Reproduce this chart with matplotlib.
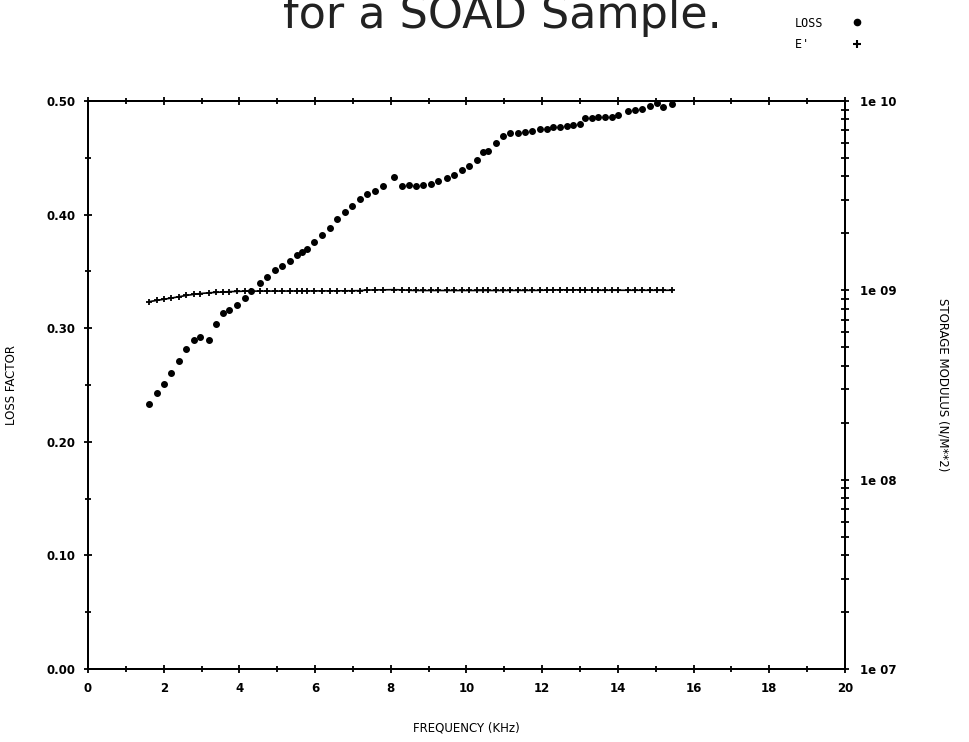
import numpy as np
import matplotlib
matplotlib.use('Agg')
import matplotlib.pyplot as plt
from matplotlib.ticker import MultipleLocator, LogLocator, NullFormatter

# loss factor points (frequency kHz, loss factor)
loss_freq = [1.61, 1.82, 2.00, 2.20, 2.40, 2.60, 2.79, 2.97, 3.19, 3.39,
             3.57, 3.73, 3.94, 4.14, 4.30, 4.54, 4.73, 4.93, 5.13, 5.34,
             5.53, 5.65, 5.79, 5.97, 6.18, 6.39, 6.59, 6.78, 6.97, 7.18,
             7.37, 7.57, 7.79, 8.08, 8.29, 8.48, 8.67, 8.85, 9.05, 9.25,
             9.48, 9.67, 9.87, 10.07, 10.27, 10.43, 10.56, 10.77, 10.96, 11.15,
             11.37, 11.55, 11.72, 11.94, 12.12, 12.29, 12.47, 12.65, 12.82, 13.00,
             13.13, 13.31, 13.48, 13.66, 13.84, 14.01, 14.27, 14.45, 14.63, 14.85,
             15.03, 15.20, 15.42]
loss = [0.233, 0.243, 0.251, 0.261, 0.271, 0.282, 0.290, 0.292, 0.290, 0.304,
        0.313, 0.316, 0.320, 0.327, 0.333, 0.340, 0.345, 0.351, 0.355, 0.359,
        0.364, 0.367, 0.370, 0.376, 0.382, 0.388, 0.396, 0.402, 0.408, 0.414,
        0.418, 0.421, 0.425, 0.433, 0.425, 0.426, 0.425, 0.426, 0.427, 0.430,
        0.432, 0.435, 0.439, 0.443, 0.448, 0.455, 0.456, 0.463, 0.469, 0.472,
        0.472, 0.473, 0.474, 0.475, 0.475, 0.477, 0.477, 0.478, 0.479, 0.480,
        0.485, 0.485, 0.486, 0.486, 0.486, 0.488, 0.491, 0.492, 0.493, 0.496,
        0.498, 0.495, 0.497]

# storage modulus E' (N/m**2), same frequencies
e_store = [8.71e8, 8.85e8, 8.97e8, 9.10e8, 9.25e8, 9.40e8, 9.52e8, 9.62e8, 9.70e8, 9.76e8,
           9.80e8, 9.84e8, 9.87e8, 9.90e8, 9.90e8, 9.91e8, 9.91e8, 9.91e8, 9.91e8, 9.92e8,
           9.92e8, 9.92e8, 9.92e8, 9.93e8, 9.93e8, 9.93e8, 9.94e8, 9.94e8, 9.95e8, 9.96e8,
           1.003e9, 1.005e9, 1.006e9, 1.008e9, 1.006e9, 1.000e9, 9.98e8, 9.98e8, 9.98e8, 9.98e8,
           9.98e8, 9.98e8, 9.98e8, 9.98e8, 9.98e8, 9.98e8, 9.98e8, 9.98e8, 9.98e8, 9.99e8,
           9.99e8, 9.99e8, 9.99e8, 1.000e9, 1.003e9, 1.005e9, 1.006e9, 1.006e9, 1.006e9, 1.006e9,
           1.004e9, 1.002e9, 1.001e9, 1.001e9, 1.001e9, 1.001e9, 1.001e9, 1.001e9, 1.001e9, 1.001e9,
           1.001e9, 1.001e9, 1.001e9]

left_ticks = [0.0, 0.1, 0.2, 0.3, 0.4, 0.5]
left_labels = ['0.00', '0.10', '0.20', '0.30', '0.40', '0.50']
right_ticks = [1e7, 1e8, 1e9, 1e10]
right_labels = ['1e 07', '1e 08', '1e 09', '1e 10']
x_ticks = [0, 2, 4, 6, 8, 10, 12, 14, 16, 18, 20]

fig = plt.figure(figsize=(9.69, 7.42), dpi=100)
ax = fig.add_axes([88/969, 1-669/742, 757/969, 568/742])
ax2 = ax.twinx()

ax.plot(loss_freq, loss, 'o', color='black', ms=4.0, zorder=3, label='LOSS')
ax2.plot(loss_freq, e_store, '-', color='black', lw=1.2, marker='+', ms=5, mew=1.3, label="E'")

ax.set_xlim(0, 20)
ax.set_ylim(0, 0.5)
ax2.set_yscale('log')
ax2.set_ylim(1e7, 1e10)

ax.set_xticks(x_ticks)
ax.set_xticklabels([str(t) for t in x_ticks])
ax.xaxis.set_minor_locator(MultipleLocator(1))
ax.set_yticks(left_ticks)
ax.set_yticklabels(left_labels)
ax.yaxis.set_minor_locator(MultipleLocator(0.05))
ax2.set_yticks(right_ticks)
ax2.set_yticklabels(right_labels)
ax2.yaxis.set_minor_locator(LogLocator(base=10, subs=np.arange(2, 10)))
ax2.yaxis.set_minor_formatter(NullFormatter())

for a in (ax, ax2):
    for s in a.spines.values():
        s.set_linewidth(1.4)
ax.tick_params(axis='both', which='both', direction='inout', top=True, width=1.3,
               labelsize=8.5, pad=6)
ax.tick_params(which='major', length=6)
ax.tick_params(which='minor', length=5)
ax2.tick_params(axis='y', which='both', direction='inout', width=1.3, labelsize=8.5, pad=8)
ax2.tick_params(which='major', length=6)
ax2.tick_params(which='minor', length=6)
for lab in ax.get_xticklabels() + ax.get_yticklabels() + ax2.get_yticklabels():
    lab.set_fontweight('bold')

ax.set_xlabel('FREQUENCY (KHz)', fontsize=8.5)
ax.xaxis.set_label_coords(0.5, -0.093)
ax.set_ylabel('LOSS FACTOR', fontsize=8.5)
ax.yaxis.set_label_coords(-0.093, 0.5)
ax2.set_ylabel('STORAGE MODULUS (N/M**2)', fontsize=8.5, rotation=270, va='center')
ax2.yaxis.set_label_coords(1.129, 0.5)

fig.text(283/969, 1-28/742, 'for a SOAD Sample.', fontsize=32, ha='left', va='baseline',
         color='#222222')

dot = plt.Line2D([], [], ls='none', marker='o', ms=4.5, color='black')
plus = plt.Line2D([], [], ls='none', marker='+', ms=6, mew=1.5, color='black')
leg = fig.legend([dot, plus], ['LOSS', "E'  "], loc='upper right',
                 bbox_to_anchor=(874/969, 1-6/742), markerfirst=False, frameon=False,
                 prop={'family': 'DejaVu Sans Mono', 'size': 8.5}, handlelength=1.0,
                 handletextpad=2.4, labelspacing=0.7)

fig.savefig('out.png', dpi=100)
